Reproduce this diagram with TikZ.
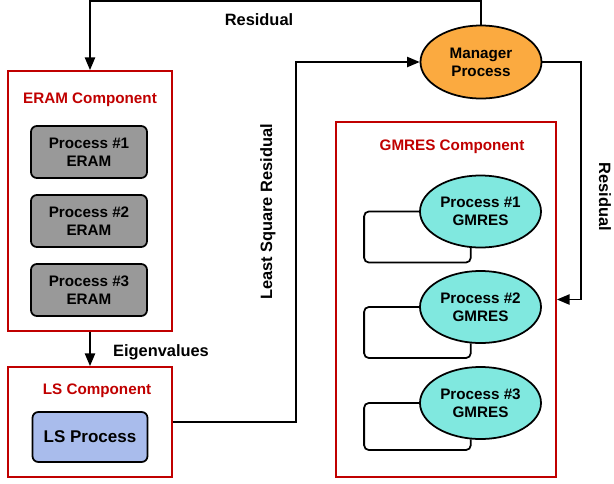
\documentclass[tikz,border=0pt]{standalone}
\usepackage{fontspec}
\setmainfont{Liberation Sans}
\usetikzlibrary{arrows,shapes.geometric}
\definecolor{compred}{HTML}{C00000}
\definecolor{eramgray}{HTML}{999999}
\definecolor{lsblue}{HTML}{A9BCEC}
\definecolor{mgrorange}{HTML}{FBAA40}
\definecolor{gmrescyan}{HTML}{80E8DF}
\begin{document}
\begin{tikzpicture}[x=0.3mm,y=-0.3mm,>=triangle 45,line width=1.5pt,
  comp node/.style={rectangle,draw=compred,line width=1.7pt,minimum width=49.2mm},
  comp label/.style={text=compred,font=\bfseries\fontsize{13}{15}\selectfont},
  proc node/.style={rectangle,rounded corners=5pt,draw,minimum width=34.8mm,minimum height=15.6mm,align=center,font=\bfseries\fontsize{13}{15.5}\selectfont},
  ell node/.style={ellipse,draw,minimum width=36.3mm,minimum height=21.6mm,inner sep=0pt,align=center,font=\bfseries\fontsize{13}{15.5}\selectfont},
  lbl/.style={font=\bfseries\fontsize{14}{16}\selectfont}]
  \useasboundingbox (0,0) rectangle (614,483);

  % ERAM side
  \node[comp node,minimum height=78mm] (eram) at (90,201) {};
  \node[comp label] (eramlbl) at (90,100) {ERAM Component};
  \node[proc node,fill=eramgray] (e1) at (89,152) {Process \#1\\ERAM};
  \node[proc node,fill=eramgray] (e2) at (89,221) {Process \#2\\ERAM};
  \node[proc node,fill=eramgray] (e3) at (89,290) {Process \#3\\ERAM};

  % LS side
  \node[comp node,minimum height=33mm] (ls) at (90,422) {};
  \node[comp label] (lslbl) at (97,391) {LS Component};
  \node[proc node,fill=lsblue,minimum width=34.5mm,minimum height=15mm,font=\bfseries\fontsize{14.5}{16}\selectfont] (lsp) at (90,437) {LS Process};

  % manager
  \node[ell node,fill=mgrorange,minimum height=21.9mm] (mgr) at (481,62) {Manager\\Process};

  % GMRES side
  \node[comp node,minimum width=66mm,minimum height=106.5mm] (gm) at (446,299.5) {};
  \node[comp label] (gmlbl) at (452,147) {GMRES Component};
  \node[ell node,fill=gmrescyan] (g1) at (480.5,211.5) {Process \#1\\GMRES};
  \node[ell node,fill=gmrescyan] (g2) at (480.5,307) {Process \#2\\GMRES};
  \node[ell node,fill=gmrescyan] (g3) at (480.5,403) {Process \#3\\GMRES};

  \coordinate (topres) at (259,1);
  \coordinate (lsq) at (296,240);
  \coordinate (rres) at (581,200);

  \draw[->] (mgr.north) |- (topres) -| (eram.north);
  \draw[->] (eram.south) -- (ls.north);
  \draw[->] (ls.east) -| (lsq) |- (mgr.west);
  \draw[->] (mgr.east) -| (rres) |- (gm.east);

  % self loops
  \foreach \g/\h in {g1/51,g2/51,g3/47}
    \draw[rounded corners=4pt] (\g.west) -- ++(-55,0) -- ++(0,\h) -| (\g.255);

  \node[lbl] (reslbl) at (259,20) {Residual};
  \node[lbl] (eiglbl) at (161,352) {Eigenvalues};
  \node[lbl,rotate=90] (lsqlbl) at (268,212) {Least Square Residual};
  \node[lbl,rotate=-90] (rreslbl) at (605,197) {Residual};
\end{tikzpicture}
\end{document}
